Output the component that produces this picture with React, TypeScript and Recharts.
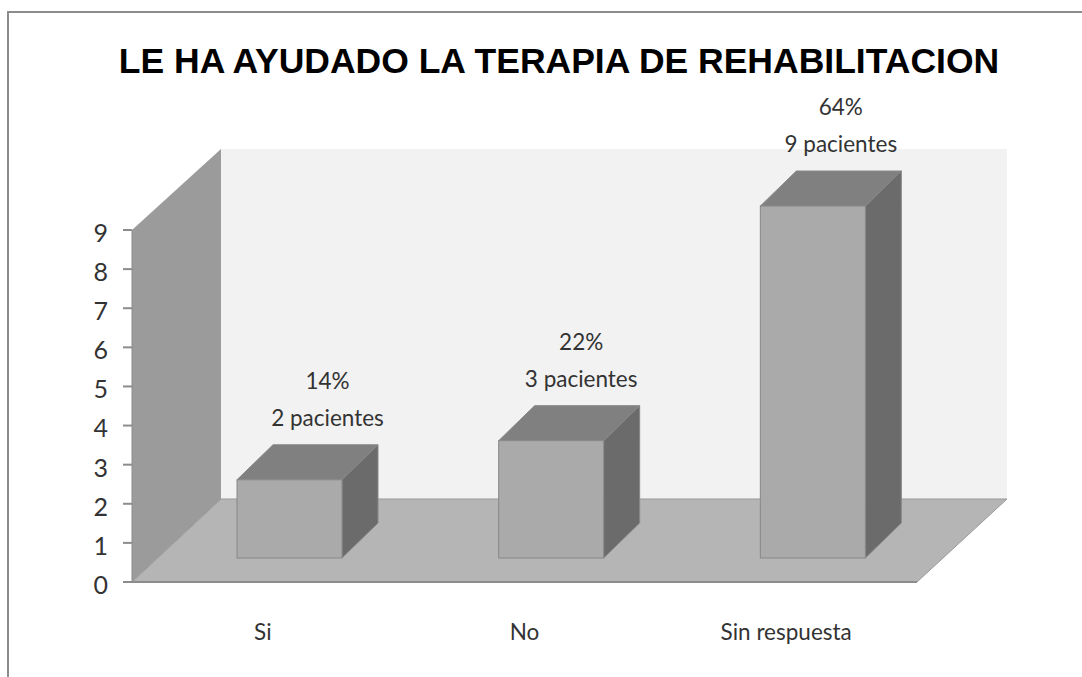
import React from "react";
import { BarChart, Bar, XAxis, YAxis, ReferenceArea, LabelList } from "recharts";

const categories = ["Si", "No", "Sin respuesta"];
const patients = [2, 3, 9];
const percents = ["14%", "22%", "64%"];
const yTicks = [0, 1, 2, 3, 4, 5, 6, 7, 8, 9];

const data = categories.map((name, i) => ({ name, patients: patients[i], percent: percents[i] }));

const FONT = "Lato, sans-serif";
const TEXT = "#333333";

// offsets of the fake 3D box, as seen in the original picture
const BAR_SHIFT_X = 27;
const BAR_SHIFT_Y = -24;
const DEPTH_X = 36;
const DEPTH_Y = -35;
const labelNudge = [20, 12, 10];

const Room = ({ x, y, width, height }: any) => {
  const bottom = y + height;
  const backX = 89;
  const backY = -83;
  const top = y - 81;
  return (
    <g>
      <polygon
        points={`${x + backX},${top} ${x + width + backX + 1},${top} ${x + width + backX + 1},${bottom + backY} ${x + backX},${bottom + backY}`}
        fill="#f2f2f2"
      />
      <polygon
        points={`${x},${y} ${x + backX},${top} ${x + backX},${bottom + backY} ${x},${bottom}`}
        fill="#9b9b9b"
      />
      <polygon
        points={`${x},${bottom} ${x + backX},${bottom + backY} ${x + width + backX + 1},${bottom + backY} ${x + width},${bottom}`}
        fill="#b5b5b5"
        stroke="#999999"
        strokeWidth={1}
      />
    </g>
  );
};

const Box = ({ x, y, width, height }: any) => {
  const left = x + BAR_SHIFT_X;
  const right = left + width;
  const top = y + BAR_SHIFT_Y;
  const bottom = top + height;
  return (
    <g stroke="#888888" strokeWidth={1}>
      <polygon
        points={`${left},${top} ${left + DEPTH_X},${top + DEPTH_Y} ${right + DEPTH_X},${top + DEPTH_Y} ${right},${top}`}
        fill="#808080"
      />
      <polygon
        points={`${right},${top} ${right + DEPTH_X},${top + DEPTH_Y} ${right + DEPTH_X},${bottom + DEPTH_Y} ${right},${bottom}`}
        fill="#6b6b6b"
      />
      <rect x={left} y={top} width={width} height={height} fill="#aaaaaa" />
    </g>
  );
};

const BoxLabel = ({ x, y, width, index }: any) => {
  const cx = x + width / 2 + BAR_SHIFT_X + DEPTH_X / 2 + labelNudge[index];
  const top = y + BAR_SHIFT_Y;
  return (
    <text textAnchor="middle" fontFamily={FONT} fontSize={22.5} fill={TEXT}>
      <tspan x={cx} y={top - 91}>{percents[index]}</tspan>
      <tspan x={cx} y={top - 54}>{`${patients[index]} pacientes`}</tspan>
    </text>
  );
};

export default function App() {
  return (
    <div style={{ position: "absolute", left: 0, top: 0, width: 1082, height: 677, overflow: "hidden", background: "#fff" }}>
      <div style={{ position: "absolute", left: 7, top: 11, width: 1075, height: 666, borderTop: "2px solid #8c8c8c", borderLeft: "2px solid #8c8c8c", boxSizing: "border-box" }} />
      <div
        style={{
          position: "absolute",
          left: 0,
          width: 1118,
          top: 40,
          textAlign: "center",
          fontFamily: "'Liberation Sans', Arial, sans-serif",
          fontWeight: 700,
          fontSize: 35.5,
          lineHeight: "42px",
          whiteSpace: "nowrap",
          color: "#000",
        }}
      >
        LE HA AYUDADO LA TERAPIA DE REHABILITACION
      </div>
      <div style={{ position: "absolute", left: 0, top: 0 }}>
        <BarChart
          width={1082}
          height={677}
          data={data}
          margin={{ top: 230, right: 165, left: 0, bottom: 0 }}
          barSize={105}
        >
          <XAxis
            dataKey="name"
            height={95}
            tickLine={false}
            axisLine={{ stroke: "#8c8c8c", strokeWidth: 2 }}
            tickMargin={36}
            tick={{ fontFamily: FONT, fontSize: 22.5, fill: TEXT }}
          />
          <YAxis
            width={132}
            domain={[0, 9]}
            ticks={yTicks}
            interval={0}
            tickSize={9}
            tickLine={{ stroke: "#8c8c8c", strokeWidth: 2 }}
            axisLine={{ stroke: "#8c8c8c", strokeWidth: 1 }}
            tickMargin={15}
            tick={{ fontFamily: FONT, fontSize: 25, fill: TEXT, dy: 3 }}
          />
          <ReferenceArea y1={0} y2={9} shape={Room} fillOpacity={1} />
          <Bar dataKey="patients" shape={Box} isAnimationActive={false}>
            <LabelList dataKey="patients" content={BoxLabel} />
          </Bar>
        </BarChart>
      </div>
    </div>
  );
}
